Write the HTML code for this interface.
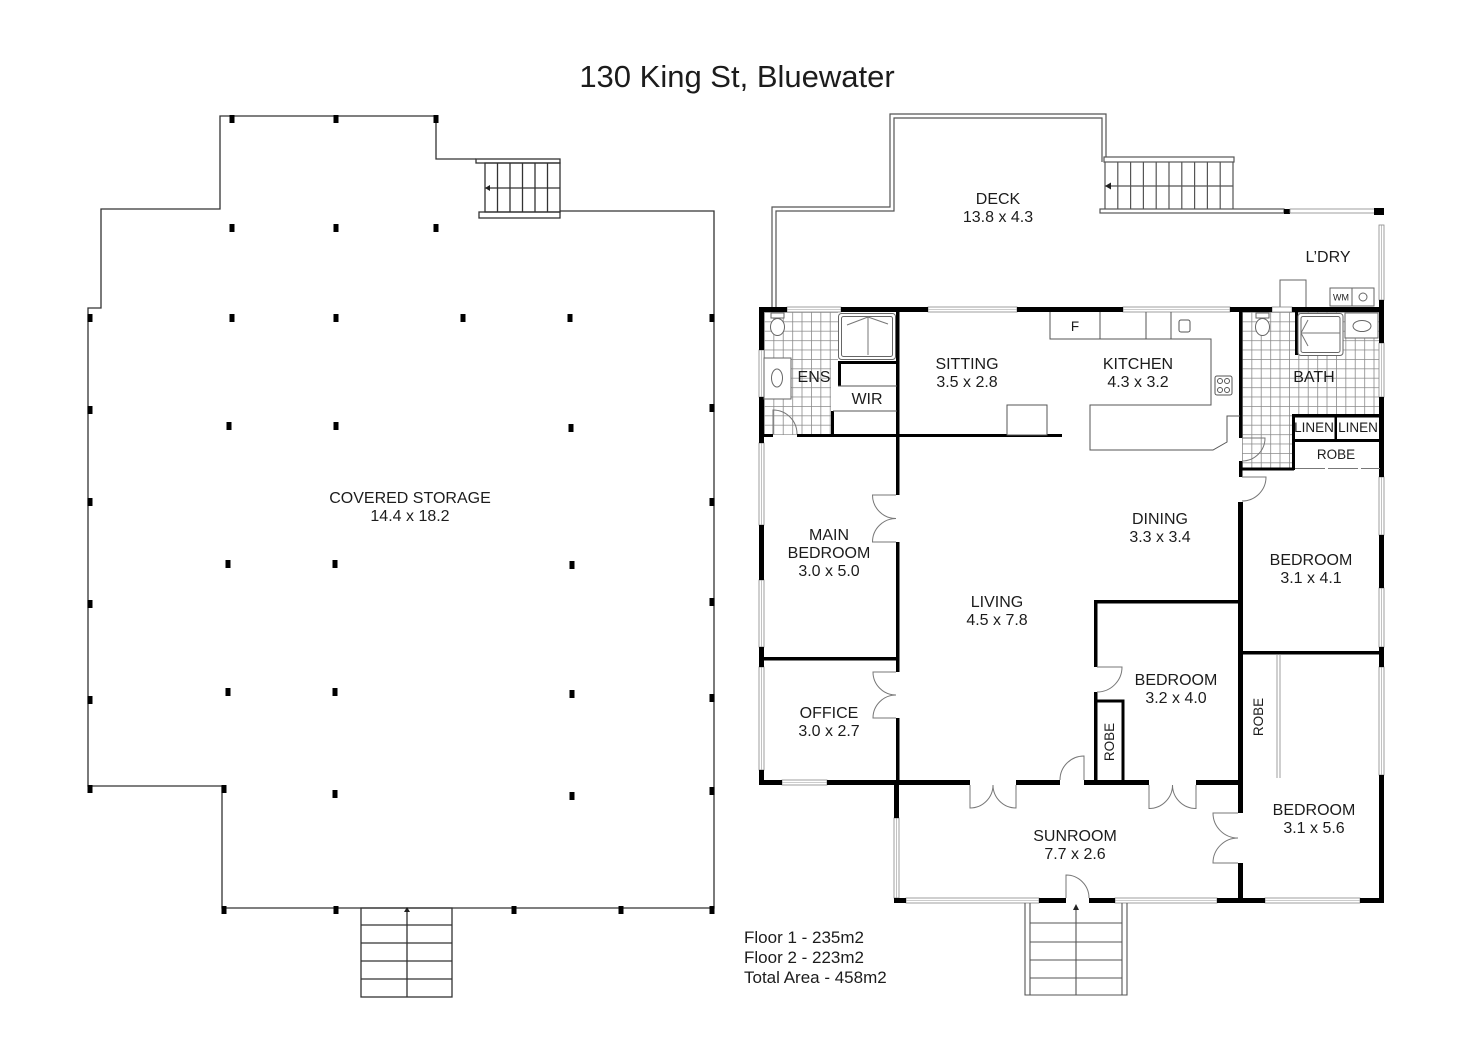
<!DOCTYPE html>
<html><head><meta charset="utf-8"><style>
html,body{margin:0;padding:0;background:#fff;}
svg{display:block;}
text{font-family:"Liberation Sans",sans-serif;fill:#1c1c1c;}
</style></head><body>
<svg width="1472" height="1040" viewBox="0 0 1472 1040" xmlns="http://www.w3.org/2000/svg">
<defs>
<pattern id="tile" x="764" y="312" width="9.4" height="9.4" patternUnits="userSpaceOnUse"><path d="M0 0.4H9.4M0.4 0V9.4" stroke="#8a8a8a" stroke-width="0.8" fill="none"/></pattern>
<pattern id="tile2" x="1242" y="312" width="9.4" height="9.4" patternUnits="userSpaceOnUse"><path d="M0 0.4H9.4M0.4 0V9.4" stroke="#8a8a8a" stroke-width="0.8" fill="none"/></pattern>
</defs>
<rect width="1472" height="1040" fill="#fff"/>

<!-- Title -->
<text x="737" y="87" font-size="31" text-anchor="middle">130 King St, Bluewater</text>

<!-- ================= LEFT PLAN ================= -->
<g fill="none" stroke="#333" stroke-width="1.3">
  <polyline points="560,211 714,211 714,908 222,908 222,786 88,786 88,308 101,308 101,209 220,209 220,116 436,116 436,159 476,159"/>
  <rect x="476" y="159" width="84" height="4"/>
  <rect x="485" y="163" width="75" height="49"/>
  <path d="M497.5 163V212M510 163V212M522.5 163V212M535 163V212M547.5 163V212M485 188H560"/>
  <rect x="479" y="212" width="81" height="6"/>
  <!-- bottom stair -->
  <rect x="361" y="908" width="91" height="89"/>
  <path d="M361 925H452M361 943H452M361 961H452M361 979H452M407 908V997"/>
</g>
<path d="M485 188l5 -3v6z" fill="#222"/>
<path d="M407 907l-3 5h6z" fill="#222"/>
<g fill="#000">
  <rect x="229.5" y="115" width="5" height="8"/><rect x="333.5" y="115" width="5" height="8"/><rect x="433.5" y="115" width="5" height="8"/>
  <rect x="229.5" y="224" width="5" height="8"/><rect x="333.5" y="224" width="5" height="8"/><rect x="433.5" y="224" width="5" height="8"/>
  <rect x="87.5" y="314" width="5" height="8"/><rect x="229.5" y="314" width="5" height="8"/><rect x="333.5" y="314" width="5" height="8"/><rect x="460.5" y="314" width="5" height="8"/><rect x="567.5" y="314" width="5" height="8"/><rect x="709.5" y="314" width="5" height="8"/>
  <rect x="87.5" y="406" width="5" height="8"/><rect x="709.5" y="404" width="5" height="8"/>
  <rect x="226.5" y="422" width="5" height="8"/><rect x="333.5" y="422" width="5" height="8"/><rect x="568.5" y="424" width="5" height="8"/>
  <rect x="87.5" y="498" width="5" height="8"/><rect x="709.5" y="498" width="5" height="8"/>
  <rect x="225.5" y="560" width="5" height="8"/><rect x="332.5" y="560" width="5" height="8"/><rect x="569.5" y="561" width="5" height="8"/>
  <rect x="87.5" y="600" width="5" height="8"/><rect x="709.5" y="598" width="5" height="8"/>
  <rect x="225.5" y="688" width="5" height="8"/><rect x="332.5" y="688" width="5" height="8"/><rect x="569.5" y="690" width="5" height="8"/>
  <rect x="87.5" y="696" width="5" height="8"/><rect x="709.5" y="694" width="5" height="8"/>
  <rect x="87.5" y="785" width="5" height="8"/><rect x="221.5" y="785" width="5" height="8"/><rect x="332.5" y="790" width="5" height="8"/><rect x="569.5" y="792" width="5" height="8"/><rect x="709.5" y="787" width="5" height="8"/>
  <rect x="221.5" y="906" width="5" height="8"/><rect x="333.5" y="906" width="5" height="8"/><rect x="511.5" y="906" width="5" height="8"/><rect x="618.5" y="906" width="5" height="8"/><rect x="709.5" y="906" width="5" height="8"/>
</g>
<text x="410" y="503" font-size="16" text-anchor="middle">COVERED STORAGE</text>
<text x="410" y="521" font-size="16" text-anchor="middle">14.4 x 18.2</text>

<!-- ================= RIGHT PLAN ================= -->
<!-- tiles -->
<rect x="764" y="312" width="74" height="49" fill="url(#tile)"/>
<rect x="764" y="361" width="67" height="74" fill="url(#tile)"/>
<rect x="1242" y="312" width="138" height="103" fill="url(#tile2)"/>
<rect x="1242" y="415" width="50" height="53" fill="url(#tile2)"/>

<!-- deck -->
<g fill="none" stroke="#555" stroke-width="1.2">
  <path d="M772 308V207H890V114H1106V158"/>
  <path d="M776 308V211H894V118H1102V162"/>
  <rect x="1104" y="157" width="130" height="5" fill="#fff"/>
  <path d="M1105 162V209M1117.8 162V209M1130.6 162V209M1143.4 162V209M1156.2 162V209M1169 162V209M1181.8 162V209M1194.6 162V209M1207.4 162V209M1220.2 162V209M1233 162V209M1105 186H1233"/>
  <rect x="1100" y="209" width="184" height="4" fill="#fff"/>
</g>
<path d="M1105 186l6 -3.5v7z" fill="#222"/>
<rect x="1284" y="209" width="6" height="5" fill="#000"/>
<rect x="1290" y="209" width="89" height="4" fill="#fff" stroke="#888" stroke-width="0.8"/>
<rect x="1374" y="208" width="10" height="7" fill="#000"/>

<!-- L'DRY fixtures -->
<g fill="#fff" stroke="#666" stroke-width="1">
  <rect x="1280" y="280" width="26" height="28"/>
  <rect x="1330" y="288" width="22" height="18"/>
  <rect x="1352" y="288" width="22" height="18"/>
  <circle cx="1363" cy="297" r="4"/>
</g>
<text x="1341" y="300.5" font-size="9" text-anchor="middle">WM</text>

<!-- windows (white rect outlines) -->
<g fill="#fff" stroke="#888" stroke-width="0.8">
  <rect x="787" y="307" width="54" height="5"/>
  <rect x="928" y="307" width="89" height="5"/>
  <rect x="1123" y="307" width="107" height="5"/>
  <rect x="1272" y="307" width="20" height="5"/>
  <rect x="759" y="350" width="5" height="47"/>
  <rect x="759" y="443" width="5" height="82"/>
  <rect x="759" y="580" width="5" height="67"/>
  <rect x="759" y="667" width="5" height="103"/>
  <rect x="782" y="780" width="45" height="5"/>
  <rect x="1379" y="225" width="5" height="75"/>
  <rect x="1379" y="343" width="5" height="54"/>
  <rect x="1379" y="477" width="5" height="58"/>
  <rect x="1379" y="588" width="5" height="59"/>
  <rect x="1379" y="667" width="5" height="108"/>
  <rect x="894" y="818" width="5" height="80"/>
  <rect x="906" y="898" width="133" height="5"/>
  <rect x="1115" y="898" width="102" height="5"/>
  <rect x="1265" y="898" width="95" height="5"/>
</g>
<g stroke="#999" stroke-width="0.6">
  <path d="M928 309.5H1017M1123 309.5H1230M787 309.5H841M961 309.5H982"/>
  <path d="M761.5 350V397M761.5 443V525M761.5 580V647M761.5 667V770M1381.5 225V300M1381.5 343V397M1381.5 477V535M1381.5 588V647M1381.5 667V775M896.5 818V898M906 900.5H1039M1115 900.5H1217M1265 900.5H1360M782 782.5H827"/>
</g>

<!-- exterior walls -->
<g fill="#000">
  <!-- top -->
  <rect x="759" y="307" width="28" height="5"/>
  <rect x="841" y="307" width="87" height="5"/>
  <rect x="1017" y="307" width="106" height="5"/>
  <rect x="1230" y="307" width="42" height="5"/>
  <rect x="1292" y="307" width="92" height="5"/>
  <!-- left -->
  <rect x="759" y="307" width="5" height="43"/>
  <rect x="759" y="397" width="5" height="46"/>
  <rect x="759" y="525" width="5" height="55"/>
  <rect x="759" y="647" width="5" height="20"/>
  <rect x="759" y="770" width="5" height="15"/>
  <!-- bottom of main -->
  <rect x="759" y="780" width="23" height="5"/>
  <rect x="827" y="780" width="143" height="5"/>
  <rect x="1016" y="780" width="44" height="5"/>
  <rect x="1084" y="780" width="65" height="5"/>
  <rect x="1196" y="780" width="47" height="5"/>
  <!-- right -->
  <rect x="1379" y="300" width="5" height="43"/>
  <rect x="1379" y="397" width="5" height="80"/>
  <rect x="1379" y="535" width="5" height="53"/>
  <rect x="1379" y="647" width="5" height="20"/>
  <rect x="1379" y="775" width="5" height="128"/>
  <!-- sunroom -->
  <rect x="894" y="780" width="5" height="38"/>
  <rect x="894" y="898" width="12" height="5"/>
  <rect x="1039" y="898" width="27" height="5"/>
  <rect x="1089" y="898" width="26" height="5"/>
  <rect x="1217" y="898" width="48" height="5"/>
  <rect x="1360" y="898" width="24" height="5"/>
  <rect x="1238" y="502" width="5" height="311"/>
  <rect x="1238" y="863" width="5" height="40"/>
  <!-- bath / hall wall -->
  <rect x="1239" y="312" width="3.5" height="126"/>
  <rect x="1239" y="461" width="3.5" height="16"/>
  <rect x="1239" y="467.5" width="55" height="3"/>
  <!-- interior left -->
  <rect x="896" y="312" width="3.5" height="183"/>
  <rect x="896" y="542" width="3.5" height="130"/>
  <rect x="896" y="718" width="3.5" height="67"/>
  <rect x="759" y="657" width="140" height="3.5"/>
  <rect x="797" y="434" width="265" height="3"/>
  <rect x="764" y="434" width="9" height="3"/>
  <!-- ENS / WIR -->
  <rect x="838" y="361" width="61" height="3"/>
  <rect x="838" y="361" width="3" height="25"/>
  <rect x="831" y="411" width="3" height="25"/>
  <!-- bedroom 3.2 -->
  <rect x="1094" y="600" width="149" height="3.5"/>
  <rect x="1094" y="600" width="3.5" height="67"/>
  <rect x="1094" y="692" width="3.5" height="90"/>
  <rect x="1094" y="699.5" width="30" height="3"/>
  <rect x="1121.5" y="699.5" width="3" height="82"/>
  <!-- bedroom separation -->
  <rect x="1240" y="651" width="142" height="3.5"/>
  <!-- bath linen / robe -->
  <rect x="1292" y="414" width="90" height="3.5"/>
  <rect x="1292" y="439" width="90" height="3"/>
  <rect x="1292" y="414" width="3" height="56"/>
  <rect x="1334.5" y="414" width="2.5" height="27"/>
  <rect x="1295" y="312" width="3" height="43"/>
</g>
<path d="M1295 468.5H1380" stroke="#777" stroke-width="1" stroke-dasharray="30 3"/>
<path d="M1277 654V778M1280 654V778" stroke="#888" stroke-width="0.8"/>

<!-- thin interior lines -->
<g fill="none" stroke="#555" stroke-width="1">
  <path d="M838 386H897M833 411H897"/>
  <rect x="1007" y="405" width="40" height="30" fill="#fff"/>
  <!-- kitchen -->
  <path d="M1050 312V339H1211V405H1090V450H1213L1227 442V416H1240"/>
  <path d="M1100 312V339M1146 312V339M1171 312V339"/>
  <rect x="1179" y="320" width="11" height="12" rx="2"/>
  <rect x="1215" y="376" width="17" height="19" rx="2"/>
  <circle cx="1220" cy="381" r="2.5"/><circle cx="1227" cy="381" r="2.5"/>
  <circle cx="1220" cy="390" r="2.5"/><circle cx="1227" cy="390" r="2.5"/>
</g>

<!-- fixtures -->
<g fill="#fff" stroke="#666" stroke-width="1">
  <rect x="838.5" y="313.5" width="57" height="46" rx="3"/>
  <rect x="841.5" y="316.5" width="51" height="40" rx="2"/>
  <rect x="1298" y="313.5" width="45" height="42" rx="3"/>
  <rect x="1301" y="316.5" width="39" height="36" rx="2"/>
  <rect x="764" y="358" width="27" height="41"/>
  <ellipse cx="777" cy="378" rx="5.5" ry="9"/>
  <rect x="1345" y="313" width="33" height="25"/>
  <ellipse cx="1362" cy="326" rx="9" ry="5.5"/>
  <rect x="771" y="313" width="13" height="5"/>
  <ellipse cx="777.5" cy="327" rx="7" ry="8.5"/>
  <rect x="1256" y="313" width="13" height="5"/>
  <ellipse cx="1262.5" cy="327" rx="7" ry="8.5"/>
</g>
<g fill="none" stroke="#777" stroke-width="1">
  <path d="M868 317V355M868 317L847 325M868 317L888 324"/>
  <path d="M1301 333H1340M1301 333L1308 320M1301 333L1308 346"/>
</g>

<!-- doors -->
<g fill="none" stroke="#777" stroke-width="1">
  <path d="M896 495H872.5A23.5 23.5 0 0 0 896 518.5M896 542H872.5A23.5 23.5 0 0 1 896 518.5"/>
  <path d="M896 672H873A23 23 0 0 0 896 695M896 718H873A23 23 0 0 1 896 695"/>
  <path d="M970 785V808A23 23 0 0 0 993 785M1016 785V808A23 23 0 0 1 993 785"/>
  <path d="M1149 785V808.5A23.5 23.5 0 0 0 1172.5 785M1196 785V808.5A23.5 23.5 0 0 1 1172.5 785"/>
  <path d="M1084 780V756A24 24 0 0 0 1060 780"/>
  <path d="M1238 813H1213A25 25 0 0 0 1238 838M1238 863H1213A25 25 0 0 1 1238 838"/>
  <path d="M1066 898V875A23 23 0 0 1 1089 898"/>
  <path d="M1242 438H1265A23 23 0 0 1 1242 461"/>
  <path d="M1242 477H1266A24 24 0 0 1 1242 501"/>
  <path d="M773 434V410A24 24 0 0 1 797 434"/>
  <path d="M1097 667H1122A25 25 0 0 1 1097 692"/>
</g>

<!-- front stair -->
<g fill="none" stroke="#555" stroke-width="1.1">
  <path d="M1025 903V995H1127V903M1030 903V995M1122 903V995"/>
  <path d="M1030 923H1122M1030 942H1122M1030 960H1122M1030 978H1122M1030 995H1122M1076 907V995"/>
</g>
<path d="M1076 904l-3 6h6z" fill="#222"/>

<!-- labels -->
<g font-size="16" text-anchor="middle">
  <text x="998" y="204">DECK</text>
  <text x="998" y="222">13.8 x 4.3</text>
  <text x="1328" y="262">L’DRY</text>
  <text x="967" y="369">SITTING</text>
  <text x="967" y="387">3.5 x 2.8</text>
  <text x="1138" y="369">KITCHEN</text>
  <text x="1138" y="387">4.3 x 3.2</text>
  <text x="814" y="382">ENS</text>
  <text x="867" y="404">WIR</text>
  <text x="1314" y="382">BATH</text>
  <text x="829" y="540">MAIN</text>
  <text x="829" y="558">BEDROOM</text>
  <text x="829" y="576">3.0 x 5.0</text>
  <text x="1160" y="524">DINING</text>
  <text x="1160" y="542">3.3 x 3.4</text>
  <text x="1311" y="565">BEDROOM</text>
  <text x="1311" y="583">3.1 x 4.1</text>
  <text x="997" y="607">LIVING</text>
  <text x="997" y="625">4.5 x 7.8</text>
  <text x="1176" y="685">BEDROOM</text>
  <text x="1176" y="703">3.2 x 4.0</text>
  <text x="829" y="718">OFFICE</text>
  <text x="829" y="736">3.0 x 2.7</text>
  <text x="1314" y="815">BEDROOM</text>
  <text x="1314" y="833">3.1 x 5.6</text>
  <text x="1075" y="841">SUNROOM</text>
  <text x="1075" y="859">7.7 x 2.6</text>
</g>
<g font-size="13.5" text-anchor="middle">
  <text x="1314" y="432">LINEN</text>
  <text x="1358" y="432">LINEN</text>
  <text x="1336" y="459">ROBE</text>
  <text x="1075" y="331">F</text>
  <text transform="translate(1114,742) rotate(-90)">ROBE</text>
  <text transform="translate(1263,717) rotate(-90)">ROBE</text>
</g>
<g font-size="17">
  <text x="744" y="943">Floor 1 - 235m2</text>
  <text x="744" y="963">Floor 2 - 223m2</text>
  <text x="744" y="983">Total Area - 458m2</text>
</g>
</svg>
</body></html>
